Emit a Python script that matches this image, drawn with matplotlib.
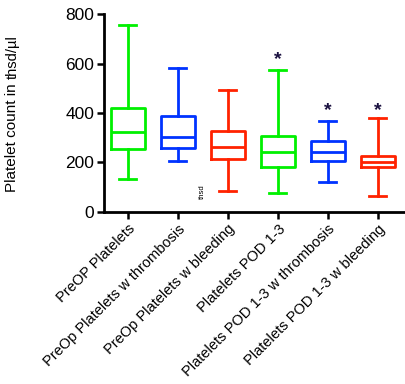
import matplotlib
matplotlib.use('Agg')
import matplotlib.pyplot as plt

plt.rcParams['font.family'] = ['Liberation Sans', 'DejaVu Sans']

# values (thsd/ul)
labels = ['PreOP Platelets', 'PreOp Platelets w thrombosis', 'PreOp Platelets w bleeding',
          'Platelets POD 1-3', 'Platelets POD 1-3 w thrombosis', 'Platelets POD 1-3 w bleeding']
whislo = [133, 206, 86, 78, 120, 65]
q1 = [253, 259, 214, 181, 206, 182]
med = [322, 302, 261, 244, 244, 200]
q3 = [421, 388, 327, 307, 287, 228]
whishi = [755, 580, 493, 574, 368, 380]
colors = ['#00f000', '#0033ff', '#ff2200', '#00f000', '#0033ff', '#ff2200']
star_groups = [3, 4, 5]
star_y = [614, 408, 408]

fig = plt.figure(figsize=(4.06, 3.84), dpi=100)
ax = fig.add_axes([0.256, 0.448, 0.744, 0.5155])

stats = []
for i in range(len(labels)):
    stats.append(dict(whislo=whislo[i], q1=q1[i], med=med[i], q3=q3[i], whishi=whishi[i], fliers=[]))

lw = 2.0
for i, s in enumerate(stats):
    c = colors[i]
    ax.bxp([s], positions=[i], widths=0.68, capwidths=0.34, showfliers=False,
           boxprops=dict(color=c, linewidth=lw),
           whiskerprops=dict(color=c, linewidth=lw),
           capprops=dict(color=c, linewidth=lw),
           medianprops=dict(color=c, linewidth=lw))

for g, y in zip(star_groups, star_y):
    ax.text(g, y, '*', ha='center', va='center', fontsize=14, fontweight='bold', color='#1a1040')

ax.text(1.48, 81, 'thsd', rotation=90, ha='center', va='center', fontsize=5.5)

ax.set_xlim(-0.48, 5.56)
ax.set_ylim(0, 800)
ax.set_yticks([0, 200, 400, 600, 800])
ax.set_xticks(range(len(labels)))
ax.set_xticklabels(labels, rotation=45, ha='right', rotation_mode='anchor', fontsize=10.5)
ax.tick_params(axis='y', labelsize=12.5, width=1.8, length=5, direction='out', pad=2)
ax.tick_params(axis='x', width=1.8, length=5, direction='out', pad=2)
for sp in ['top', 'right']:
    ax.spines[sp].set_visible(False)
for sp in ['left', 'bottom']:
    ax.spines[sp].set_linewidth(2)

t1 = fig.text(0.03, 0.5, 'Platelet count in', rotation=90, ha='center', va='bottom', fontsize=11)
ax.annotate('thsd/\u00b5l', xy=(0.5, 1.0), xycoords=t1, xytext=(0.5, 3), textcoords='offset points',
            rotation=90, ha='center', va='bottom', fontsize=10.5, annotation_clip=False)

plt.savefig('out.png', dpi=100)
